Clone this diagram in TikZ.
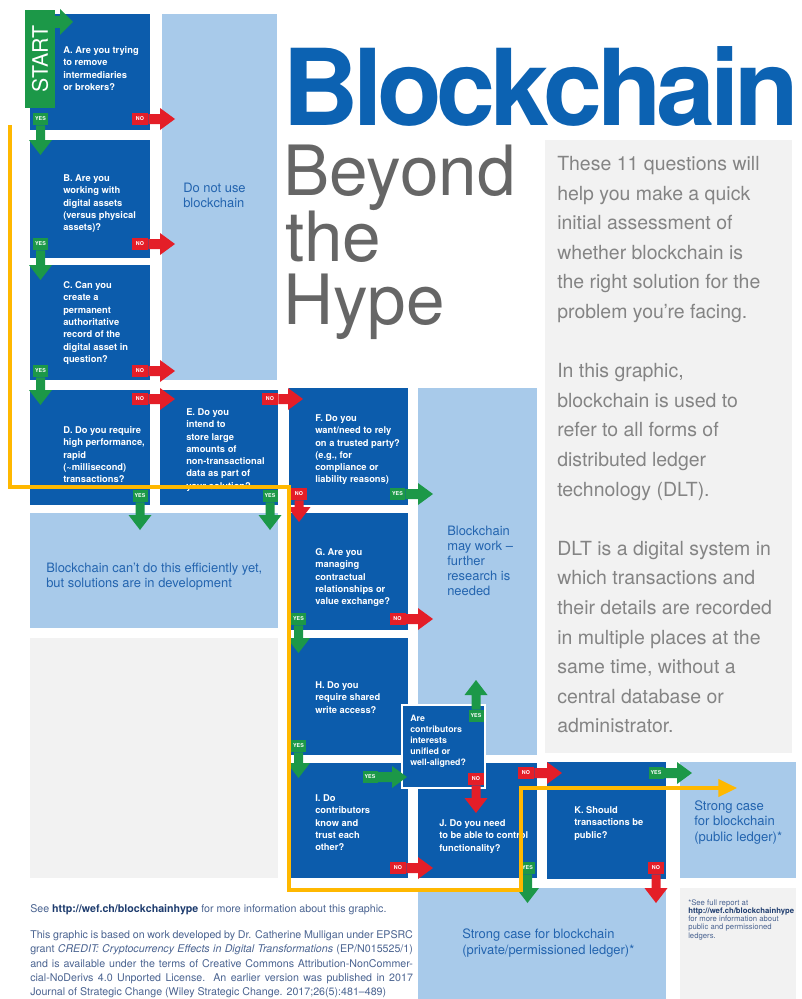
\documentclass[tikz,border=0pt]{standalone}
\usepackage{fontspec}
\setmainfont{TeX Gyre Heros}
\newfontfamily\titlefont[LetterSpace=-5.2]{TeX Gyre Heros}
\usetikzlibrary{calc,arrows.meta}
\definecolor{dblue}{RGB}{12,92,172}
\definecolor{lblue}{RGB}{168,202,234}
\definecolor{lgrey}{RGB}{242,242,242}
\definecolor{ygreen}{RGB}{28,152,72}
\definecolor{nred}{RGB}{228,30,40}
\definecolor{ltxt}{RGB}{35,100,175}
\definecolor{tblue}{RGB}{12,98,178}
\definecolor{tgrey}{RGB}{102,102,102}
\definecolor{rtxt}{RGB}{132,132,132}
\definecolor{orng}{RGB}{255,184,0}
\definecolor{ftxt}{RGB}{75,100,145}
\definecolor{furl}{RGB}{30,60,110}
\tikzset{
  dbox/.style={fill=dblue},
  lbox/.style={fill=lblue},
  gbox/.style={fill=lgrey},
  qtext/.style={anchor=north west, align=left, inner sep=0pt, text=white, font=\fontsize{7}{9.2}\selectfont\bfseries},
  ltextst/.style={anchor=north west, align=left, inner sep=0pt, text=ltxt, font=\fontsize{9.7}{11.25}\selectfont},
  yeslab/.style={fill=ygreen, text=white, inner sep=0pt, minimum width=11.25pt, minimum height=9pt, font=\fontsize{4}{4}\selectfont\bfseries},
  nolab/.style={fill=nred, text=white, inner sep=0pt, minimum width=12pt, minimum height=9pt, font=\fontsize{4}{4}\selectfont\bfseries},
  ftextst/.style={anchor=north west, align=left, inner sep=0pt, text=ftxt, font=\fontsize{8}{10.7}\selectfont},
  orangeline/.style={draw=orng, line width=2.6pt, -{Triangle[length=14pt,width=13pt]}},
}
\newcommand\arrD[3]{\fill[#1] ($(#2)+(-4.5,0)$) -- ($(#3)+(-4.5,-15)$) -- ($(#3)+(-11.5,-15)$) -- (#3) -- ($(#3)+(11.5,-15)$) -- ($(#3)+(4.5,-15)$) -- ($(#2)+(4.5,0)$) -- cycle;}
\newcommand\arrU[3]{\fill[#1] ($(#2)+(-4.5,0)$) -- ($(#3)+(-4.5,15)$) -- ($(#3)+(-11.5,15)$) -- (#3) -- ($(#3)+(11.5,15)$) -- ($(#3)+(4.5,15)$) -- ($(#2)+(4.5,0)$) -- cycle;}
\newcommand\arrR[3]{\fill[#1] ($(#2)+(0,-5)$) -- ($(#3)+(-15,-5)$) -- ($(#3)+(-15,-11)$) -- (#3) -- ($(#3)+(-15,11)$) -- ($(#3)+(-15,5)$) -- ($(#2)+(0,5)$) -- cycle;}
\newcommand\jline[1]{\makebox[287pt][s]{#1}}
\begin{document}
\begin{tikzpicture}[x=0.75pt,y=-0.75pt]
\useasboundingbox (0,0) rectangle (802,999);
\fill[white] (0,0) rectangle (802,999);
% light blue outcome boxes
\fill[lbox] (162,14) rectangle (277,380);
\fill[lbox] (30,513) rectangle (278,628);
\fill[lbox] (418,388) rectangle (537,755);
\fill[lbox] (680,762) rectangle (796,878);
\fill[lbox] (418,888) rectangle (666,999);
% grey boxes
\fill[gbox] (30,638) rectangle (278,878);
\fill[gbox] (545,140) rectangle (792,753);
\fill[gbox] (680,888) rectangle (796,999);
% question boxes
\fill[dbox] (30,14) rectangle (150,130);
\fill[dbox] (30,140) rectangle (150,258);
\fill[dbox] (30,265) rectangle (150,380);
\fill[dbox] (30,390) rectangle (150,505);
\fill[dbox] (160,390) rectangle (278,505);
\fill[dbox] (289,388) rectangle (408,505);
\fill[dbox] (289,513) rectangle (408,630);
\fill[dbox] (289,638) rectangle (408,755);
\fill[dbox] (289,763) rectangle (408,878);
\fill[dbox] (418,763) rectangle (537,878);
\fill[dbox] (547,762) rectangle (666,879);
\filldraw[fill=dblue, draw=white, line width=0.8pt] (402,705) rectangle (485,788);
% START
\node[fill=ygreen, text=white, rotate=90, inner sep=0pt, minimum width=73.5pt, minimum height=22.5pt, font=\fontsize{16}{16}\selectfont] (start) at (40,59) {START};
\coordinate (sT) at (73,22);
\fill[ygreen] (55,16) -- (60,16) -- (60,9) -- (sT) -- (60,35) -- (60,28) -- (55,28) -- cycle;
% question texts
\node[qtext] (qA) at (63,46.5) {A. Are you trying\\to remove\\intermediaries\\or brokers?};
\node[qtext] (qB) at (63,174.5) {B. Are you\\working with\\digital assets\\(versus physical\\assets)?};
\node[qtext] (qC) at (63,281.5) {C. Can you\\create a\\permanent\\authoritative\\record of the\\digital asset in\\question?};
\node[qtext] (qD) at (63,426.5) {D. Do you require\\high performance,\\rapid\\(\textasciitilde millisecond)\\transactions?};
\node[qtext] (qE) at (186,408.5) {E. Do you\\intend to\\store large\\amounts of\\non-transactional\\data as part of\\your solution?};
\node[qtext] (qF) at (315,414.5) {F. Do you\\want/need to rely\\on a trusted party?\\(e.g., for\\compliance or\\liability reasons)};
\node[qtext] (qG) at (315,548.5) {G. Are you\\managing\\contractual\\relationships or\\value exchange?};
\node[qtext] (qH) at (315,681.5) {H. Do you\\require shared\\write access?};
\node[qtext] (qI) at (315,794.5) {I. Do\\contributors\\know and\\trust each\\other?};
\node[qtext] (qJ) at (439,819.5) {J. Do you need\\to be able to control\\functionality?};
\node[qtext] (qK) at (574,806.5) {K. Should\\transactions be\\public?};
\node[qtext, font=\fontsize{6.6}{8.25}\selectfont\bfseries] (qX) at (410,714.5) {Are\\contributors\\interests\\unified or\\well-aligned?};
% outcome texts
\node[ltextst] (oNo) at (183,182.4) {Do not use\\blockchain};
\node[ltextst] (oCant) at (46,562.4) {Blockchain can't do this efficiently yet,\\but solutions are in development};
\node[ltextst] (oMay) at (447,525.4) {Blockchain\\may work --\\further\\research is\\needed};
\node[ltextst, font=\fontsize{9.8}{11.6}\selectfont] (oPub) at (694,800.3) {Strong case\\for blockchain\\(public ledger)*};
\node[ltextst, font=\fontsize{9.7}{12.4}\selectfont] (oPriv) at (462,928.2) {Strong case for blockchain\\(private/permissioned ledger)*};
% labels
\node[yeslab] (yA) at (40.5,119) {YES};
\node[nolab] (nA) at (140,119) {NO};
\node[yeslab] (yB) at (40.5,244) {YES};
\node[nolab] (nB) at (140,244) {NO};
\node[yeslab] (yC) at (40.5,371) {YES};
\node[nolab] (nC) at (140,371) {NO};
\node[nolab] (nD) at (140,399) {NO};
\node[nolab] (nE) at (270,399) {NO};
\node[yeslab] (yD) at (140,496) {YES};
\node[yeslab] (yE) at (270,496) {YES};
\node[yeslab] (yF) at (397.5,494) {YES};
\node[nolab] (nF) at (299,494) {NO};
\node[nolab] (nG) at (397.5,619) {NO};
\node[yeslab] (yG) at (298.5,619) {YES};
\node[yeslab] (yH) at (298.5,746) {YES};
\node[yeslab] (yI) at (370,777) {YES};
\node[yeslab] (yX) at (476,716) {YES};
\node[nolab] (nX) at (476,779) {NO};
\node[nolab] (nI) at (398,868) {NO};
\node[nolab] (nJ) at (526,773) {NO};
\node[yeslab] (yK) at (656,773) {YES};
\node[yeslab] (yJ) at (527.5,868) {YES};
\node[nolab] (nK) at (656,868) {NO};
% tips
\coordinate (tyA) at (40.5,155);
\coordinate (tnA) at (175,119);
\coordinate (tyB) at (40.5,280);
\coordinate (tnB) at (175,244);
\coordinate (tyC) at (40.5,405);
\coordinate (tnC) at (175,371);
\coordinate (tnD) at (175,399);
\coordinate (tnE) at (303,399);
\coordinate (tyD) at (140,530);
\coordinate (tyE) at (270,530);
\coordinate (tyF) at (433,494);
\coordinate (tnF) at (299,522);
\coordinate (tnG) at (433,619);
\coordinate (tyG) at (298.5,653);
\coordinate (tyH) at (298.5,778);
\coordinate (tyI) at (407,777);
\coordinate (tyX) at (476,680);
\coordinate (tnX) at (476,813);
\coordinate (tnI) at (433,868);
\coordinate (tnJ) at (562,773);
\coordinate (tyK) at (692,773);
\coordinate (tyJ) at (527.5,903);
\coordinate (tnK) at (656,903);
% arrows
\arrD{ygreen}{yA.south}{tyA}
\arrR{nred}{nA.east}{tnA}
\arrD{ygreen}{yB.south}{tyB}
\arrR{nred}{nB.east}{tnB}
\arrD{ygreen}{yC.south}{tyC}
\arrR{nred}{nC.east}{tnC}
\arrR{nred}{nD.east}{tnD}
\arrR{nred}{nE.east}{tnE}
\arrD{ygreen}{yD.south}{tyD}
\arrD{ygreen}{yE.south}{tyE}
\arrR{ygreen}{yF.east}{tyF}
\arrD{nred}{nF.south}{tnF}
\arrR{nred}{nG.east}{tnG}
\arrD{ygreen}{yG.south}{tyG}
\arrD{ygreen}{yH.south}{tyH}
\arrR{ygreen}{yI.east}{tyI}
\arrU{ygreen}{yX.north}{tyX}
\arrD{nred}{nX.south}{tnX}
\arrR{nred}{nI.east}{tnI}
\arrR{nred}{nJ.east}{tnJ}
\arrR{ygreen}{yK.east}{tyK}
\arrD{ygreen}{yJ.south}{tyJ}
\arrD{nred}{nK.south}{tnK}
% title
\node[anchor=base west, inner sep=0pt, text=tblue, font={\titlefont\fontsize{79.5}{80}\selectfont\bfseries}] (title) at (282,125) {Blockchain};
\node[anchor=base west, inner sep=0pt, text=tgrey, font=\fontsize{52}{52}\selectfont] (beyond) at (283,195) {Beyond};
\node[anchor=base west, inner sep=0pt, text=tgrey, font=\fontsize{52}{52}\selectfont] (the) at (285,261) {the};
\node[anchor=base west, inner sep=0pt, text=tgrey, font=\fontsize{52}{52}\selectfont] (hype) at (283,324) {Hype};
% intro text
\node[anchor=north west, align=left, inner sep=0pt, text=rtxt, font=\fontsize{14.6}{22.2}\selectfont] (intro) at (557,156) {These 11 questions will\\help you make a quick\\initial assessment of\\whether blockchain is\\the right solution for the\\problem you're facing.\\[22.2pt]In this graphic,\\blockchain is used to\\refer to all forms of\\distributed ledger\\technology (DLT).\\[22.2pt]DLT is a digital system in\\which transactions and\\their details are recorded\\in multiple places at the\\same time, without a\\central database or\\administrator.};
% footer
\node[ftextst] (see) at (30,904.3) {See \textcolor{furl}{\textbf{http://wef.ch/blockchainhype}} for more information about this graphic.};
\node[ftextst] (credit) at (30,930.3) {\jline{This graphic is based on work developed by Dr. Catherine Mulligan under EPSRC}\\\jline{grant \textit{CREDIT: Cryptocurrency Effects in Digital Transformations} (EP/N015525/1)}\\\jline{and is available under the terms of Creative Commons Attribution-NonCommer-}\\\jline{cial-NoDerivs 4.0 Unported License. An earlier version was published in 2017}\\Journal of Strategic Change (Wiley Strategic Change. 2017;26(5):481--489)};
\node[anchor=north west, align=left, inner sep=0pt, text=ftxt, font=\fontsize{5.8}{6.2}\selectfont] (fn) at (688,899) {*See full report at\\\textcolor{furl}{\textbf{http://wef.ch/blockchainhype}}\\for more information about\\public and permissioned\\ledgers.};
% orange path
\coordinate (o1) at (10,125);
\coordinate (o2) at (10,487);
\coordinate (o3) at (289,487);
\coordinate (o4) at (289,890);
\coordinate (o5) at (521,890);
\coordinate (o6) at (521,788);
\coordinate (o7) at (737,788);
\draw[orangeline] (o1) -- (o2) -- (o3) -- (o4) -- (o5) -- (o6) -- (o7);
\end{tikzpicture}
\end{document}
